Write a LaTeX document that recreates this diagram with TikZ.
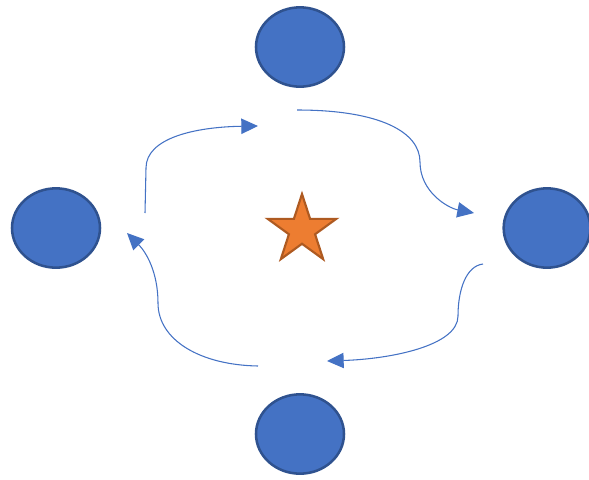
\documentclass[tikz,border=0pt]{standalone}
\usetikzlibrary{arrows.meta,shapes.geometric}
\definecolor{officeblue}{HTML}{4472C4}
\definecolor{darkblue}{HTML}{2F528F}
\definecolor{officeorange}{HTML}{ED7D31}
\definecolor{darkorange}{HTML}{AE5A21}

\begin{document}
\begin{tikzpicture}[
  x=0.75pt, y=-0.75pt,
  disc/.style = {ellipse, draw=darkblue, fill=officeblue, line width=1.9pt, minimum width=66pt, minimum height=59.5pt, inner sep=0pt},
  starnode/.style = {star, star points=5, star point ratio=2.618, draw=darkorange, fill=officeorange, line width=1.6pt, minimum size=54pt, inner sep=0pt},
  arrow/.style = {draw=officeblue, line width=0.8pt, -{Triangle[length=12.5pt, width=11.5pt]}}
  ]
\useasboundingbox (0,0) rectangle (589,479);

% Nodes around the cycle
\node[disc] (top) at (300,47) {};
\node[disc] (west) at (56,228) {};
\node[disc, minimum width=65pt] (east) at (547,228) {};
\node[disc] (bottom) at (300,434) {};

% Centre
\node[starnode] (star) at (302,230) {};

% Ends of the arrows
\coordinate (a1s) at (145,213);
\coordinate (a1e) at (258,126);
\coordinate (a2s) at (297,110);
\coordinate (a2e) at (474,213);
\coordinate (a3s) at (483,264);
\coordinate (a3e) at (327,361);
\coordinate (a4s) at (258,366);
\coordinate (a4e) at (127,233);

% Curved arrows
\draw[arrow] (a1s) -- (146,168) .. controls (146,138) and (195,127) .. (a1e);
\draw[arrow] (a2s) .. controls (380,110) and (420,132) .. (420,162) .. controls (420,192) and (448,208) .. (a2e);
\draw[arrow] (a3s) .. controls (466,266) and (458,290) .. (458,316) .. controls (458,346) and (390,359) .. (a3e);
\draw[arrow] (a4s) .. controls (200,365) and (158,340) .. (158,303) .. controls (158,272) and (146,252) .. (a4e);
\end{tikzpicture}
\end{document}
